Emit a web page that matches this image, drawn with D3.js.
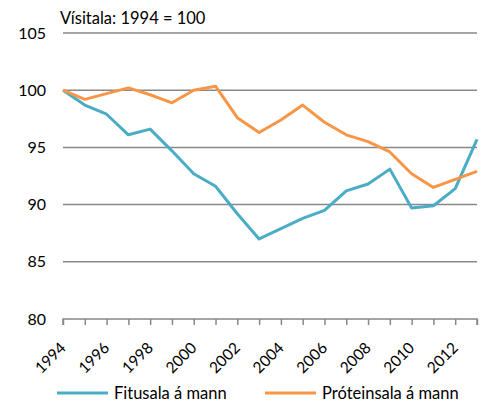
<!DOCTYPE html>
<html>
<head>
<meta charset="utf-8">
<script src="https://cdn.jsdelivr.net/npm/d3@7"></script>
<style>
  body { margin: 0; background: #fff; }
  svg text { font-family: Lato, "Liberation Sans", sans-serif; fill: #000; }
</style>
</head>
<body>
<svg width="494" height="403"></svg>
<script>
var years = [1994, 1995, 1996, 1997, 1998, 1999, 2000, 2001, 2002, 2003,
             2004, 2005, 2006, 2007, 2008, 2009, 2010, 2011, 2012, 2013];
var fitusala = [100, 98.7, 97.9, 96.1, 96.6, 94.7, 92.7, 91.6, 89.2, 87.0,
                87.9, 88.8, 89.5, 91.2, 91.8, 93.1, 89.7, 89.9, 91.4, 95.7];
var proteinsala = [100, 99.2, 99.7, 100.2, 99.6, 98.9, 100.0, 100.35, 97.6, 96.3,
                   97.4, 98.7, 97.2, 96.1, 95.5, 94.6, 92.7, 91.5, 92.2, 92.9];
var yTicks = [80, 85, 90, 95, 100, 105];
var xLabels = [1994, 1996, 1998, 2000, 2002, 2004, 2006, 2008, 2010, 2012];
var seriesNames = ["Fitusala á mann", "Próteinsala á mann"];
var colours = ["#4BACC6", "#F79646"];

var svg = d3.select("svg");

var x = d3.scaleLinear().domain([1994, 2013]).range([63, 477]);
var y = d3.scaleLinear().domain([80, 105]).range([319, 33]);

// title
svg.append("text")
    .attr("x", 60).attr("y", 24)
    .style("font-size", "16.5px")
    .text("Vísitala: 1994 = 100");

// gridlines
svg.append("g").selectAll("line")
  .data(yTicks.filter(function(d) { return d > 80; }))
  .enter().append("line")
    .attr("x1", x(1994)).attr("x2", x(2013))
    .attr("y1", function(d) { return y(d); })
    .attr("y2", function(d) { return y(d); })
    .attr("stroke", "#888")
    .attr("stroke-width", 1.5);

// y labels
svg.append("g").selectAll("text")
  .data(yTicks)
  .enter().append("text")
    .attr("x", 46)
    .attr("y", function(d) { return y(d); })
    .attr("dy", "0.35em")
    .attr("text-anchor", "end")
    .style("font-size", "16px")
    .text(function(d) { return d; });

// x axis
var xAxis = d3.axisBottom(x)
    .tickValues(years)
    .tickSize(6)
    .tickFormat("");
var gx = svg.append("g")
    .attr("transform", "translate(0," + y(80) + ")")
    .call(xAxis);
gx.select(".domain").attr("stroke", "#888").attr("stroke-width", 1.5)
  .attr("d", "M" + x(1994) + ",6V0H" + x(2013) + "V6");
gx.selectAll(".tick line").attr("stroke", "#888").attr("stroke-width", 1.5);

svg.append("g").selectAll("text")
  .data(xLabels)
  .enter().append("text")
    .attr("text-anchor", "end")
    .attr("transform", function(d) {
      return "translate(" + x(d) + "," + (y(80) + 26) + ") rotate(-45)";
    })
    .attr("dy", "0.35em")
    .style("font-size", "15.5px")
    .text(function(d) { return d; });

// lines
var line = d3.line()
    .x(function(d, i) { return x(years[i]); })
    .y(function(d) { return y(d); });

[fitusala, proteinsala].forEach(function(s, i) {
  svg.append("path")
      .datum(s)
      .attr("fill", "none")
      .attr("stroke", colours[i])
      .attr("stroke-width", 3)
      .attr("stroke-linejoin", "round")
      .attr("d", line);
});

// legend
var legendX = [57, 265];
var legend = svg.append("g").selectAll("g")
  .data(seriesNames)
  .enter().append("g")
    .attr("transform", function(d, i) { return "translate(" + legendX[i] + ",393)"; });
legend.append("line")
    .attr("x1", 0).attr("x2", 51)
    .attr("stroke", function(d, i) { return colours[i]; })
    .attr("stroke-width", 3);
legend.append("text")
    .attr("x", 57)
    .attr("dy", "0.35em")
    .style("font-size", "16.5px")
    .text(function(d) { return d; });
</script>
</body>
</html>
